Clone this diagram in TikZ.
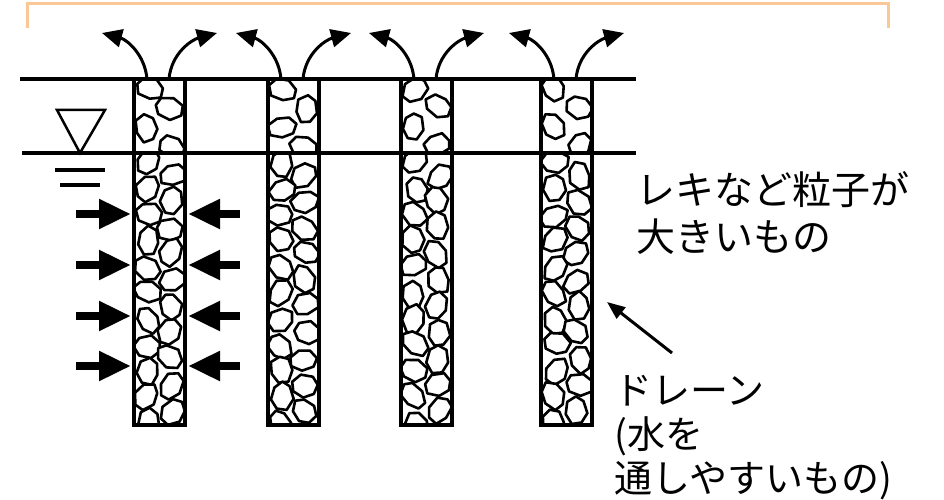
\documentclass[tikz,border=0pt]{standalone}
\usepackage{fontspec}
\newfontfamily\jp{Noto Sans CJK JP}
\usetikzlibrary{calc,arrows.meta}

% stones packed into one part of a drain: left x, top y, bottom y, row step
\newcommand{\gravel}[4]{%
  \begin{scope}
    \clip (#1,#3) rectangle (#1+51,#2);
    \pgfmathtruncatemacro{\nst}{(#2-#3)/#4}
    \foreach \k in {0,...,\nst} {
      \pgfmathsetmacro{\sx}{#1+14+23*mod(\k,2)+5*rnd-2.5}
      \pgfmathsetmacro{\sy}{#2-10-\k*#4+4*rnd-2}
      \pgfmathsetmacro{\tilt}{180*rnd}
      \draw[stone,shift={(\sx,\sy)},rotate=\tilt] plot[samples at={0,52,...,312},variable=\t] ({(12.5+3*rnd)*cos(\t)},{(9.5+2.5*rnd)*sin(\t)}) -- cycle;
    }
  \end{scope}
}

\begin{document}
\begin{tikzpicture}[x=1pt,y=1pt]
\tikzstyle{drain}=[draw,line width=3.5pt,outer sep=0pt,inner sep=0pt,minimum width=51pt,minimum height=346pt,anchor=north west]
\tikzstyle{stone}=[line width=2.6pt,line join=round,fill=white]
\tikzstyle{push}=[line width=8pt,shorten >=3pt,-{Triangle[length=32pt,width=28pt]}]
\tikzstyle{vent}=[line width=3pt,-{Triangle[length=20pt,width=18pt]}]
\tikzstyle{pointer}=[line width=3pt,-{Triangle[length=18pt,width=14pt]}]
\tikzstyle{lbl}=[align=left,inner sep=0pt,anchor=north west]
\definecolor{peach}{RGB}{250,200,150}

\useasboundingbox (0,0) rectangle (944,499);

\draw[peach,line width=3pt] (27,471) -- (27,495) -- (888,495) -- (888,471);

\pgfmathsetseed{4217}
\foreach \x in {134,268,401,541} {
  \gravel{\x}{420}{346}{19}
  \gravel{\x}{346}{74}{13}
}

% ground surface and water table
\draw[line width=3.5pt] (20,420) -- (636,420);
\draw[line width=3.5pt] (22,346) -- (636,346);

\draw[line width=2.5pt,line join=miter] (57,389) -- (105,389) -- (80,346) -- cycle;
\draw[line width=3.5pt] (55,329) -- (105,329);
\draw[line width=3.5pt] (60,314) -- (100,314);

\foreach \x [count=\i] in {134,268,401,541}
  \node[drain] (D\i) at (\x,420) {};

% water pushed into the first drain
\foreach \y in {285,234,183,133} {
  \draw[push] (76,\y) -- (D1.west |- 0,\y);
  \draw[push] (240,\y) -- (D1.east |- 0,\y);
}

% water leaving at the top
\foreach \i in {1,...,4} {
  \draw[vent] ([xshift=-12.5pt]D\i.north) to[out=95,in=-15] ++(-45,46);
  \draw[vent] ([xshift=9.5pt]D\i.north) to[out=85,in=195] ++(48,46);
}

\node[lbl,font=\jp\fontsize{39}{47}\selectfont] (gravel) at (636,328) {レキなど粒子が\\大きいもの};
\node[lbl,font=\jp\fontsize{38}{44}\selectfont] (drainlbl) at (614,124) {ドレーン\\(水を\\通しやすいもの)};

\draw[pointer] ($(drainlbl.north west)+(58,22)$) -- ($(D4.east)+(15,-50)$);

\end{tikzpicture}
\end{document}
